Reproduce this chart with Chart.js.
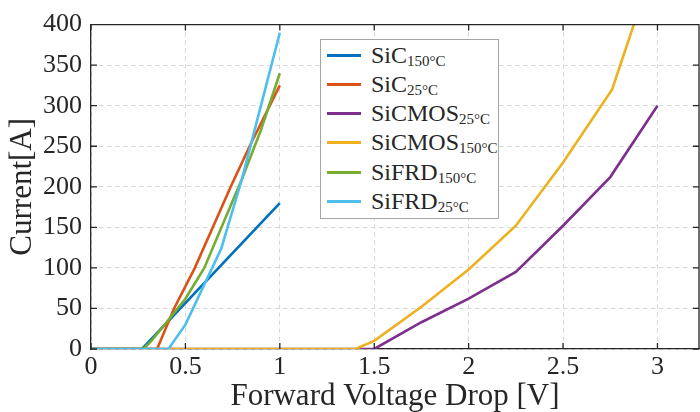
<!DOCTYPE html>
<html>
<head>
<meta charset="utf-8">
<script src="https://cdn.jsdelivr.net/npm/chart.js@4/dist/chart.umd.min.js"></script>
<style>
  html, body { margin: 0; padding: 0; background: #fff; }
  #wrap { position: relative; width: 700px; height: 412px; }
  #legend {
    position: absolute; left: 320px; top: 39px; width: 177px; height: 178px;
    border: 1px solid #a6a6a6; background: #fff;
    font-family: 'Liberation Serif', serif; color: #262626;
  }
  .row { position: absolute; left: 6px; height: 29px; display: flex; align-items: center; font-size: 24px; white-space: nowrap; }
  .swatch { width: 34px; height: 3px; margin-right: 10px; }
  .row sub { font-size: 15px; vertical-align: -3px; line-height: 0; }
</style>
</head>
<body>
<div id="wrap">
  <canvas id="ivChart" width="700" height="412"></canvas>
  <div id="legend"></div>
</div>
<script>
// tick labels
var xTicks = [0, 0.5, 1, 1.5, 2, 2.5, 3];
var yTicks = [0, 50, 100, 150, 200, 250, 300, 350, 400];

// series, in legend order
var seriesNames = ['SiC', 'SiC', 'SiCMOS', 'SiCMOS', 'SiFRD', 'SiFRD'];
var seriesTemps = ['150°C', '25°C', '25°C', '150°C', '150°C', '25°C'];
var seriesColors = ['#0072BD', '#D95319', '#7E2F8E', '#EDB120', '#77AC30', '#4DBEEE'];

// forward voltage [V] / current [A]
var sicHotV = [0, 0.27, 1];
var sicHotI = [0, 0, 180];

var sicColdV = [0, 0.35, 0.44, 0.55, 0.74, 0.84, 1];
var sicColdI = [0, 0, 50, 100, 200, 250, 325];

var mosColdV = [0, 1.5, 1.75, 2, 2.25, 2.5, 2.75, 3];
var mosColdI = [0, 0, 33, 62, 95, 152, 212, 300];

var mosHotV = [0, 1.4, 1.5, 1.75, 2, 2.25, 2.5, 2.76, 2.8, 2.875];
var mosHotI = [0, 0, 10, 52, 98, 152, 230, 320, 348, 400];

var frdHotV = [0, 0.277, 0.32, 0.4, 0.5, 0.6, 0.7, 0.8, 0.9, 1];
var frdHotI = [0, 0, 10, 33, 62, 100, 155, 210, 270, 340];

var frdColdV = [0, 0.41, 0.5, 0.69, 0.8, 0.9, 1];
var frdColdI = [0, 0, 30, 124, 210, 300, 390];

var seriesV = [sicHotV, sicColdV, mosColdV, mosHotV, frdHotV, frdColdV];
var seriesI = [sicHotI, sicColdI, mosColdI, mosHotI, frdHotI, frdColdI];

var serif = "'Liberation Serif', serif";
var ink = '#262626';

var datasets = seriesV.map(function (vs, i) {
    return {
        label: seriesNames[i] + ' ' + seriesTemps[i],
        data: vs.map(function (v, j) { return { x: v, y: seriesI[i][j] }; }),
        borderColor: seriesColors[i],
        backgroundColor: seriesColors[i],
        borderWidth: 2.6,
        pointRadius: 0,
        tension: 0,
        fill: false,
        order: seriesV.length - i   // later series on top
    };
});

// legend with subscripts
var legend = document.getElementById('legend');
seriesNames.forEach(function (name, i) {
    var row = document.createElement('div');
    row.className = 'row';
    row.style.top = (0.5 + i * 29.3) + 'px';
    row.innerHTML = '<span class="swatch" style="background:' + seriesColors[i] + '"></span>' +
        '<span>' + name + '<sub>' + seriesTemps[i] + '</sub></span>';
    legend.appendChild(row);
});

// box on top/right and inward tick marks
var frame = {
    id: 'frame',
    afterDatasetsDraw: function (chart) {
        var ctx = chart.ctx, a = chart.chartArea;
        var xs = chart.scales.x, ys = chart.scales.y;
        ctx.save();
        ctx.strokeStyle = ink;
        ctx.lineWidth = 1.3;
        ctx.beginPath();
        ctx.moveTo(a.left, a.top);
        ctx.lineTo(a.right, a.top);
        ctx.lineTo(a.right, a.bottom);
        xTicks.forEach(function (v) {
            var px = xs.getPixelForValue(v);
            ctx.moveTo(px, a.bottom); ctx.lineTo(px, a.bottom - 6);
            ctx.moveTo(px, a.top); ctx.lineTo(px, a.top + 6);
        });
        yTicks.forEach(function (v) {
            var py = ys.getPixelForValue(v);
            ctx.moveTo(a.left, py); ctx.lineTo(a.left + 6, py);
            ctx.moveTo(a.right, py); ctx.lineTo(a.right - 6, py);
        });
        ctx.stroke();
        ctx.restore();
    }
};

new Chart('ivChart', {
    type: 'line',
    data: { datasets: datasets },
    plugins: [frame],
    options: {
        responsive: false,
        animation: false,
        layout: { padding: { top: 19, right: 1, left: 0, bottom: 0 } },
        plugins: { legend: { display: false }, tooltip: { enabled: false } },
        scales: {
            x: {
                type: 'linear',
                min: 0,
                max: 3.22,
                afterBuildTicks: function (s) { s.ticks = xTicks.map(function (v) { return { value: v }; }); },
                afterFit: function (s) { s.height = 63; },
                grid: { color: '#d4d4d4', lineWidth: 1, drawTicks: false },
                border: { display: true, color: ink, width: 1.3, dash: [4, 4] },
                ticks: {
                    font: { family: serif, size: 26 },
                    color: ink,
                    padding: 3,
                    maxRotation: 0,
                    callback: function (v) { return String(v); }
                },
                title: {
                    display: true,
                    text: 'Forward Voltage Drop [V]',
                    font: { family: serif, size: 31, lineHeight: 1 },
                    color: ink,
                    padding: { top: 0, bottom: 0 }
                }
            },
            y: {
                min: 0,
                max: 400,
                afterBuildTicks: function (s) { s.ticks = yTicks.map(function (v) { return { value: v }; }); },
                afterFit: function (s) { s.width = 91; },
                grid: { color: '#d4d4d4', lineWidth: 1, drawTicks: false },
                border: { display: true, color: ink, width: 1.3, dash: [4, 4] },
                ticks: {
                    font: { family: serif, size: 26 },
                    color: ink,
                    padding: 9,
                    callback: function (v) { return String(v); }
                },
                title: {
                    display: true,
                    text: 'Current[A]',
                    font: { family: serif, size: 31, lineHeight: 1 },
                    color: ink,
                    padding: { top: 7, bottom: 0 }
                }
            }
        }
    }
});
</script>
</body>
</html>
